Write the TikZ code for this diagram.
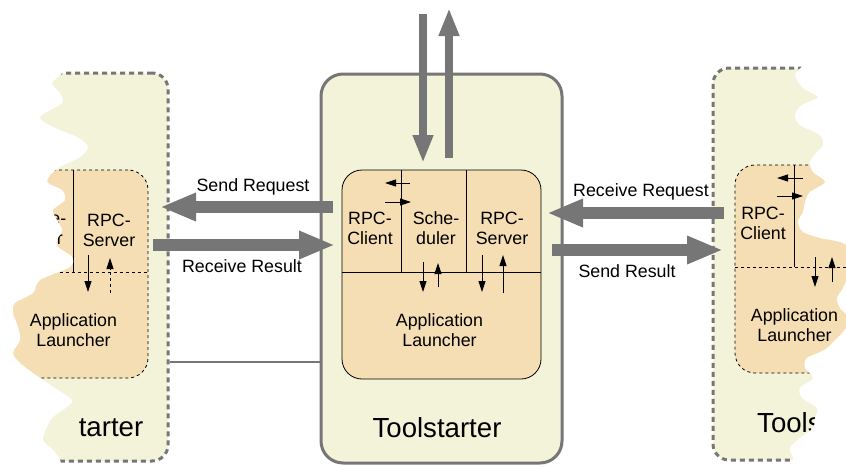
\documentclass[tikz,border=0pt]{standalone}
\usepackage{fontspec}
\setmainfont{Liberation Sans}
\usetikzlibrary{arrows.meta}
\definecolor{PaleBack}{RGB}{243,243,218}
\definecolor{WheatFill}{RGB}{245,222,179}
\definecolor{FrameGray}{RGB}{118,118,118}

\begin{document}
\begin{tikzpicture}[x=1pt, y=-1pt,
    frame/.style={draw=FrameGray, line width=3pt, fill=PaleBack, rounded corners=22pt},
    tornframe/.style={frame, dash pattern=on 5pt off 4pt, rounded corners=16pt},
    unit/.style={draw=black, line width=0.8pt, fill=WheatFill, rounded corners=20pt},
    tornunit/.style={unit, dashed},
    lbl/.style={font=\fontsize{17.8}{20}\selectfont, align=center, inner sep=0pt},
    title/.style={font=\fontsize{27.6}{30}\selectfont, inner sep=0pt},
    fat/.style={-{Triangle[length=36pt,width=26pt]}, line width=12pt, FrameGray},
    pipe/.style={-{Triangle[length=28pt,width=19pt]}, line width=8pt, FrameGray},
    call/.style={-{Triangle[length=11pt,width=7pt]}, line width=0.9pt},
    tear/.style={fill=white}
]
    \useasboundingbox (0,0) rectangle (846,466);
    \clip (0,0) rectangle (846,466);

    % frames
    \node[tornframe, minimum width=208pt, minimum height=388pt] (lframe) at (64,267) {};
    \node[frame, minimum width=241pt, minimum height=389pt] (cframe) at (441.5,268.5) {};
    \node[tornframe, minimum width=187pt, minimum height=392pt] (rframe) at (806.5,264) {};

    % units
    \node[tornunit, minimum width=178pt, minimum height=208pt] (lunit) at (59,274) {};
    \node[unit, minimum width=199pt, minimum height=209pt] (cunit) at (441.5,274.5) {};
    \node[tornunit, minimum width=165pt, minimum height=208pt] (runit) at (817.5,269) {};

    \draw[dashed, line width=0.8pt] (-30,272) -- (148,272);
    \draw[line width=0.8pt] (73,170) -- (73,272);
    \draw[line width=0.8pt] (342,272) -- (541,272);
    \draw[line width=0.8pt] (401,170) -- (401,272);
    \draw[line width=0.8pt] (466,170) -- (466,272);
    \draw[dashed, line width=0.8pt] (735,267) -- (900,267);
    \draw[line width=0.8pt] (794,165) -- (794,267);

    % texts
    \node[lbl] (lsched) at (43,228) {Sche-\\duler};
    \node[lbl] (lserver) at (109,230) {RPC-\\Server};
    \node[lbl] (llaunch) at (73.5,330) {Application\\Launcher};
    \node[title] (ltitle) at (111,428) {tarter};

    \node[lbl] (cclient) at (370,228) {RPC-\\Client};
    \node[lbl] (csched) at (436,228) {Sche-\\duler};
    \node[lbl] (cserver) at (502,228) {RPC-\\Server};
    \node[lbl] (claunch) at (439.5,330) {Application\\Launcher};
    \node[title] (ctitle) at (437,428) {Toolstarter};

    \node[lbl] (rclient) at (763,223) {RPC-\\Client};
    \node[lbl] (rlaunch) at (794.5,325) {Application\\Launcher};
    \node[title, anchor=west] (rtitle) at (757,423) {Tools};

    % calls inside the units
    \draw[call] (88,255) -- (88,292);
    \draw[call, dashed] (110,293) -- (110,258);
    \draw[call] (410,183) -- (385,183);
    \draw[call] (385,202) -- (411,202);
    \draw[call] (423,262) -- (423,292);
    \draw[call] (438,287) -- (438,263);
    \draw[call] (482,255) -- (482,292);
    \draw[call] (503,293) -- (503,255);
    \draw[call] (803,178) -- (777,178);
    \draw[call] (777,196) -- (803,196);
    \draw[call] (815,257) -- (815,287);
    \draw[call] (832,282) -- (832,257);

    \coordinate (dock) at (0,362);
    \draw[FrameGray, line width=1.5pt] (lframe.east |- dock) -- (cframe.west |- dock);

    % torn edges
    \fill[tear] (-5,60) -- plot[smooth, tension=0.5] coordinates {(62,60) (62,73) (52,83) (60,93) (62,103) (40,117) (53,127) (77,137) (88,147) (80,157) (60,167) (50,175) (48,183) (62,190) (65,200) (53,210) (57,220) (62,230) (57,240) (58,247) (72,257) (70,267) (40,280) (33,293) (15,303) (13,313) (18,327) (20,340) (13,353) (20,363) (33,373) (43,380) (58,390) (72,400) (67,407) (53,417) (47,427) (43,440) (53,450) (60,460) (62,470)} -- (-5,470) -- cycle;
    \fill[tear] (851,55) -- plot[smooth, tension=0.5] coordinates {(803,55) (803,65) (795,75) (803,88) (818,97) (802,105) (795,115) (800,125) (820,135) (823,145) (817,152) (810,162) (813,172) (825,182) (810,192) (805,202) (803,212) (798,222) (803,232) (820,238) (846,245) (850,270) (843,288) (837,298) (840,308) (850,322) (827,348) (807,358) (805,368) (813,378) (800,388) (802,398) (817,408) (815,418) (813,428) (800,438) (790,448) (793,458) (793,470)} -- (851,470) -- cycle;

    % messages between the toolstarters
    \coordinate (sendreq-a) at (333,207);
    \coordinate (sendreq-b) at (160,207);
    \coordinate (recres-a) at (153,245);
    \coordinate (recres-b) at (335,245);
    \coordinate (recreq-a) at (724,213);
    \coordinate (recreq-b) at (547,213);
    \coordinate (sendres-a) at (552,250);
    \coordinate (sendres-b) at (723,250);
    \draw[fat] (sendreq-a) -- (sendreq-b);
    \draw[fat] (recres-a) -- (recres-b);
    \draw[fat] (recreq-a) -- (recreq-b);
    \draw[fat] (sendres-a) -- (sendres-b);
    \node[lbl] (sendreq) at (253,187) {Send Request};
    \node[lbl] (recres) at (242,266) {Receive Result};
    \node[lbl] (recreq) at (641,192) {Receive Request};
    \node[lbl] (sendres) at (627,271) {Send Result};

    % to and from the outside
    \coordinate (in-a) at (423,14);
    \coordinate (out-b) at (449,8);
    \draw[pipe] (in-a) -- (in-a |- 0,163);
    \draw[pipe] (out-b |- 0,158) -- (out-b);
\end{tikzpicture}
\end{document}
